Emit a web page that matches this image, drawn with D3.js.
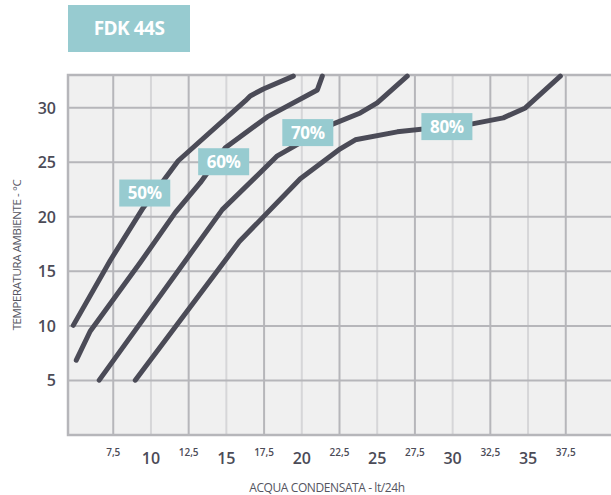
<!DOCTYPE html>
<html lang="it">
<meta charset="utf-8">
<style>
  body { margin: 0; background: #fff; }
  svg { display: block; font-family: "Open Sans", sans-serif; }
  .curve { fill: none; stroke: #4b4b57; stroke-width: 5px; stroke-linecap: round; stroke-linejoin: round; }
</style>
<script src="https://d3js.org/d3.v7.min.js"></script>
<body>
<div id="chart"></div>
<script>
// title + axis texts
const chartTitle = "FDK 44S"
const xTitle = "ACQUA CONDENSATA - lt/24h"
const yTitle = "TEMPERATURA AMBIENTE - °C"

// tick values
const xMajorTicks = [10, 15, 20, 25, 30, 35]
const xMinorTicks = [7.5, 12.5, 17.5, 22.5, 27.5, 32.5, 37.5]
const yTicks = [5, 10, 15, 20, 25, 30]

// humidity curves: [water lt/24h, temperature °C]
const rhLabels = ["50%", "60%", "70%", "80%"]
const curve50 = [[4.85, 10.05], [7.3, 16.0], [9.49, 20.84], [11.81, 25.14], [16.25, 30.62], [16.58, 31.08], [17.45, 31.72], [19.44, 32.9]]
const curve60 = [[5.05, 6.86], [5.97, 9.51], [9.29, 15.81], [11.61, 20.38], [13.27, 23.13], [14.93, 26.33], [17.71, 29.16], [21.03, 31.63], [21.36, 32.9]]
const curve70 = [[6.57, 5.03], [14.73, 20.66], [18.38, 25.59], [22.09, 28.52], [23.88, 29.52], [25.0, 30.44], [26.99, 32.9]]
const curve80 = [[8.96, 5.03], [15.86, 17.73], [19.9, 23.49], [22.55, 26.23], [23.55, 27.06], [26.33, 27.79], [31.3, 28.52], [33.36, 29.07], [34.82, 29.98], [37.14, 32.9]]
// where the label boxes sit on each curve
const labelPos = [[9.59, 22.18], [14.82, 25.05], [20.4, 27.72], [29.62, 28.27]]

const curves = [curve50, curve60, curve70, curve80]

const W = 611, H = 495
const PLOT = { LEFT: 68, RIGHT: 611, TOP: 75, BOTTOM: 435 }

const svg = d3.select("#chart").append("svg")
  .attr("width", W)
  .attr("height", H)

const x = d3.scaleLinear().domain([4.5, 40.5]).range([PLOT.LEFT, PLOT.RIGHT])
const y = d3.scaleLinear().domain([0, 33]).range([PLOT.BOTTOM, PLOT.TOP])

// title box
svg.append("rect")
  .attr("x", 68).attr("y", 5)
  .attr("width", 122).attr("height", 47)
  .attr("fill", "#97cbd0")
svg.append("text")
  .attr("x", 129).attr("y", 35)
  .attr("text-anchor", "middle")
  .attr("fill", "#fff")
  .attr("font-size", "19px")
  .attr("font-weight", 700)
  .attr("letter-spacing", "-0.5px")
  .text(chartTitle)

// plot background
svg.append("rect")
  .attr("x", PLOT.LEFT).attr("y", PLOT.TOP)
  .attr("width", PLOT.RIGHT - PLOT.LEFT)
  .attr("height", PLOT.BOTTOM - PLOT.TOP)
  .attr("fill", "#f0f0f0")

const grid = svg.append("g")

// light verticals on the major ticks
grid.selectAll(".vmaj").data(xMajorTicks).join("line")
  .attr("x1", d => x(d)).attr("x2", d => x(d))
  .attr("y1", PLOT.TOP).attr("y2", PLOT.BOTTOM)
  .attr("stroke", "#d6d6d8").attr("stroke-width", 2)

// darker verticals on the half ticks
grid.selectAll(".vmin").data(xMinorTicks).join("line")
  .attr("x1", d => x(d)).attr("x2", d => x(d))
  .attr("y1", PLOT.TOP).attr("y2", PLOT.BOTTOM)
  .attr("stroke", "#b6b6ba").attr("stroke-width", 2)

grid.selectAll(".h").data(yTicks).join("line")
  .attr("x1", PLOT.LEFT).attr("x2", PLOT.RIGHT)
  .attr("y1", d => y(d)).attr("y2", d => y(d))
  .attr("stroke", "#b6b6ba").attr("stroke-width", 2)

// border (left, top, bottom)
svg.append("path")
  .attr("d", `M${PLOT.RIGHT},${PLOT.TOP}H${PLOT.LEFT}V${PLOT.BOTTOM}H${PLOT.RIGHT}`)
  .attr("fill", "none")
  .attr("stroke", "#b6b6ba")
  .attr("stroke-width", 2.5)

// curves
const line = d3.line().x(d => x(d[0])).y(d => y(d[1]))
svg.selectAll(".curve").data(curves).join("path")
  .attr("class", "curve")
  .attr("d", line)

// humidity labels
const lab = svg.selectAll(".rh").data(rhLabels).join("g")
  .attr("transform", (d, i) => `translate(${x(labelPos[i][0])},${y(labelPos[i][1])})`)
lab.append("rect")
  .attr("x", -25.5).attr("y", -13.5)
  .attr("width", 51).attr("height", 27)
  .attr("fill", "#97cbd0")
lab.append("text")
  .attr("text-anchor", "middle")
  .attr("y", 6)
  .attr("fill", "#fff")
  .attr("font-size", "17px")
  .attr("font-weight", 700)
  .attr("letter-spacing", "-0.3px")
  .text(d => d)

// y tick labels
svg.selectAll(".ylab").data(yTicks).join("text")
  .attr("x", 56)
  .attr("y", d => y(d) + 6)
  .attr("text-anchor", "end")
  .attr("fill", "#4b4b57")
  .attr("font-size", "16px")
  .attr("font-weight", 600)
  .text(d => d)

// x tick labels
svg.selectAll(".xmaj").data(xMajorTicks).join("text")
  .attr("x", d => x(d))
  .attr("y", 464)
  .attr("text-anchor", "middle")
  .attr("fill", "#4b4b57")
  .attr("font-size", "16px")
  .attr("font-weight", 600)
  .text(d => d)

svg.selectAll(".xmin").data(xMinorTicks).join("text")
  .attr("x", d => x(d))
  .attr("y", 456)
  .attr("text-anchor", "middle")
  .attr("fill", "#4b4b57")
  .attr("font-size", "10px")
  .attr("font-weight", 600)
  .text(d => String(d).replace(".", ","))

// axis titles
svg.append("text")
  .attr("x", 327).attr("y", 492)
  .attr("text-anchor", "middle")
  .attr("fill", "#55555f")
  .attr("font-size", "12px")
  .attr("letter-spacing", "-0.4px")
  .text(xTitle)

svg.append("text")
  .attr("transform", "translate(21,255) rotate(-90)")
  .attr("text-anchor", "middle")
  .attr("fill", "#55555f")
  .attr("font-size", "11.5px")
  .attr("letter-spacing", "-0.4px")
  .text(yTitle)
</script>
</body>
</html>
